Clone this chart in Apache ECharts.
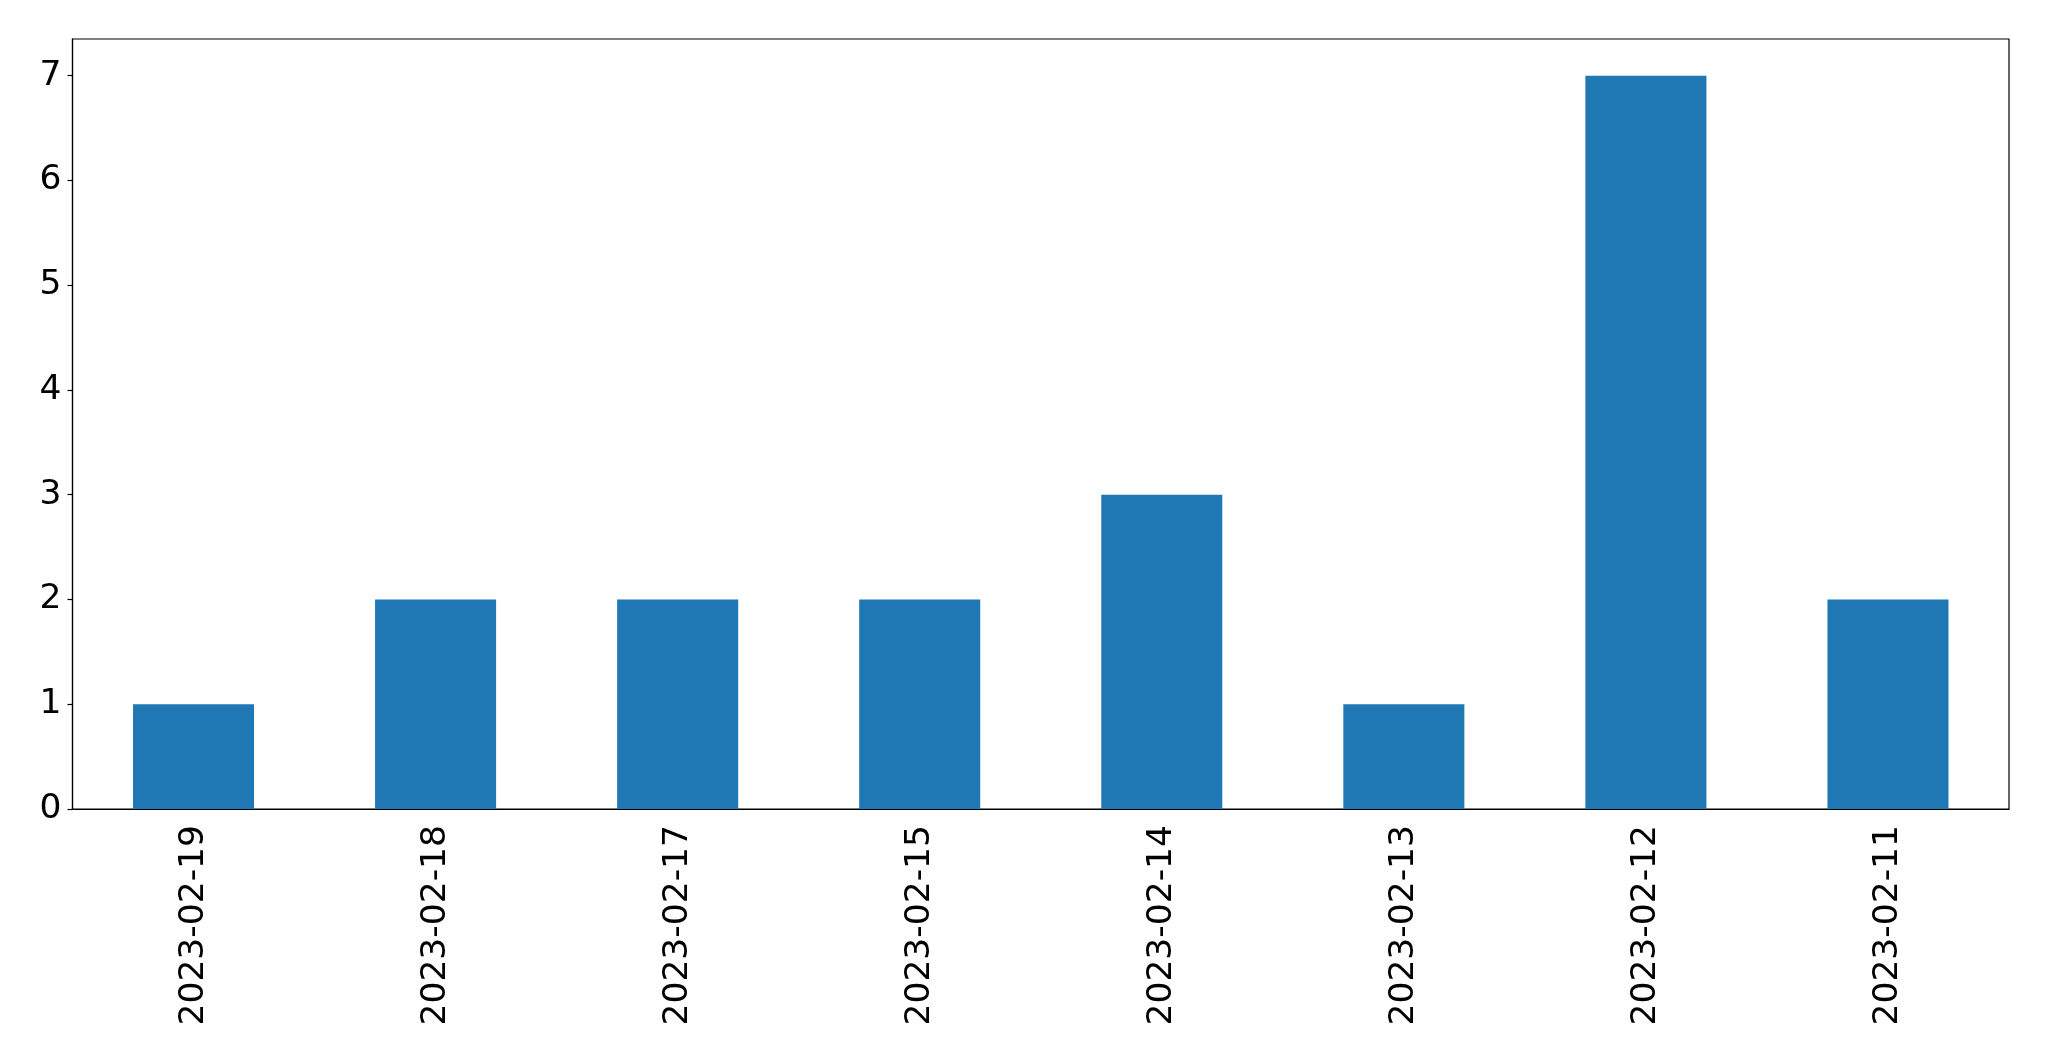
<!DOCTYPE html>
<html>
<head>
<meta charset="utf-8">
<script src="https://cdn.jsdelivr.net/npm/echarts@6/dist/echarts.min.js"></script>
<style>
html,body{margin:0;padding:0;background:#fff;}
#chart{width:2049px;height:1061px;}
</style>
</head>
<body>
<div id="chart"></div>
<script>
const categories = ['2023-02-19','2023-02-18','2023-02-17','2023-02-15','2023-02-14','2023-02-13','2023-02-12','2023-02-11'];
const counts = [1, 2, 2, 2, 3, 1, 7, 2];
const yTicks = [0, 1, 2, 3, 4, 5, 6, 7];

const chart = echarts.init(document.getElementById('chart'), null, {renderer: 'canvas'});
const font = 'DejaVu Sans';
chart.setOption({
  animation: false,
  backgroundColor: '#ffffff',
  grid: {
    left: 72.5, top: 39, right: 40, bottom: 252,
    show: true, borderColor: '#000', borderWidth: 1.2, backgroundColor: 'transparent'
  },
  xAxis: {
    type: 'category',
    data: categories,
    boundaryGap: true,
    axisLine: {lineStyle: {color: '#000', width: 1.2}},
    axisTick: {alignWithLabel: true, length: 5, lineStyle: {color: '#000', width: 1.2}},
    axisLabel: {rotate: 90, fontFamily: font, fontSize: 34.5, color: '#000', margin: 16, interval: 0}
  },
  yAxis: {
    type: 'value',
    min: 0, max: 7.35, interval: 1,
    splitLine: {show: false},
    axisLine: {show: true, lineStyle: {color: '#000', width: 1.2}},
    axisTick: {show: true, length: 5, lineStyle: {color: '#000', width: 1.2}, customValues: yTicks},
    axisLabel: {fontFamily: font, fontSize: 34.5, color: '#000', margin: 11, customValues: yTicks}
  },
  series: [{
    type: 'bar',
    data: counts,
    barWidth: '50%',
    itemStyle: {color: '#1f77b4'}
  }]
});
</script>
</body>
</html>
